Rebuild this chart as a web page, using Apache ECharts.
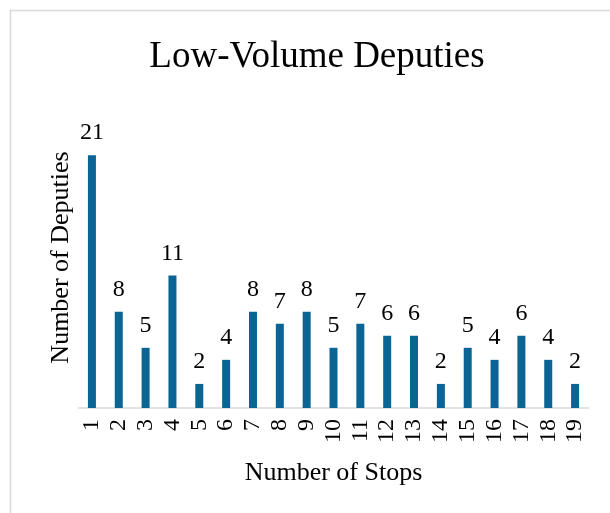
<!DOCTYPE html>
<html><head><meta charset="utf-8">
<script src="https://cdn.jsdelivr.net/npm/echarts@6/dist/echarts.min.js"></script>
<style>html,body{margin:0;padding:0;background:#fff}#c{width:610px;height:513px}</style>
</head><body><div id="c"></div>
<script>
const categories = ['1','2','3','4','5','6','7','8','9','10','11','12','13','14','15','16','17','18','19'];
const deputies = [21, 8, 5, 11, 2, 4, 8, 7, 8, 5, 7, 6, 6, 2, 5, 4, 6, 4, 2];
const titleText = 'Low-Volume Deputies';
const xName = 'Number of Stops';
const yName = 'Number of Deputies';
const serif = '"Liberation Serif", "Times New Roman", serif';
const chart = echarts.init(document.getElementById('c'));
chart.setOption({
  animation: false,
  graphic: [{type:'rect', shape:{x:10.5,y:10.5,width:620,height:520}, style:{fill:'none', stroke:'#d9d9d9', lineWidth:1.5}, silent:true}],
  title: {text: titleText, left: 312, textAlign: 'center', top: 34, textStyle:{fontFamily: serif, fontSize: 37, fontWeight:'normal', color:'#000'}},
  grid: {left: 78.5, right: 21.5, top: 107, bottom: 105},
  xAxis: {type:'category', data: categories, name: xName, nameLocation:'middle', nameGap: 52,
    nameTextStyle:{fontFamily: serif, fontSize: 26, color:'#000'},
    axisLine:{lineStyle:{color:'#d9d9d9', width:1.5}}, axisTick:{show:false},
    axisLabel:{interval: 0, rotate: 90, fontFamily: serif, fontSize: 24, color:'#000', margin: 11}},
  yAxis: {type:'value', min:0, max:25, name: yName, nameLocation:'middle', nameGap: 4,
    nameTextStyle:{fontFamily: serif, fontSize: 26, color:'#000'},
    axisLine:{show:false}, axisTick:{show:false}, axisLabel:{show:false}, splitLine:{show:false}},
  series: [{type:'bar', data: deputies, barWidth: 8, itemStyle:{color:'#0A6494'},
    label:{show:true, position:'top', distance: 10, fontFamily: serif, fontSize: 24, color:'#000'}}]
});
</script></body></html>
